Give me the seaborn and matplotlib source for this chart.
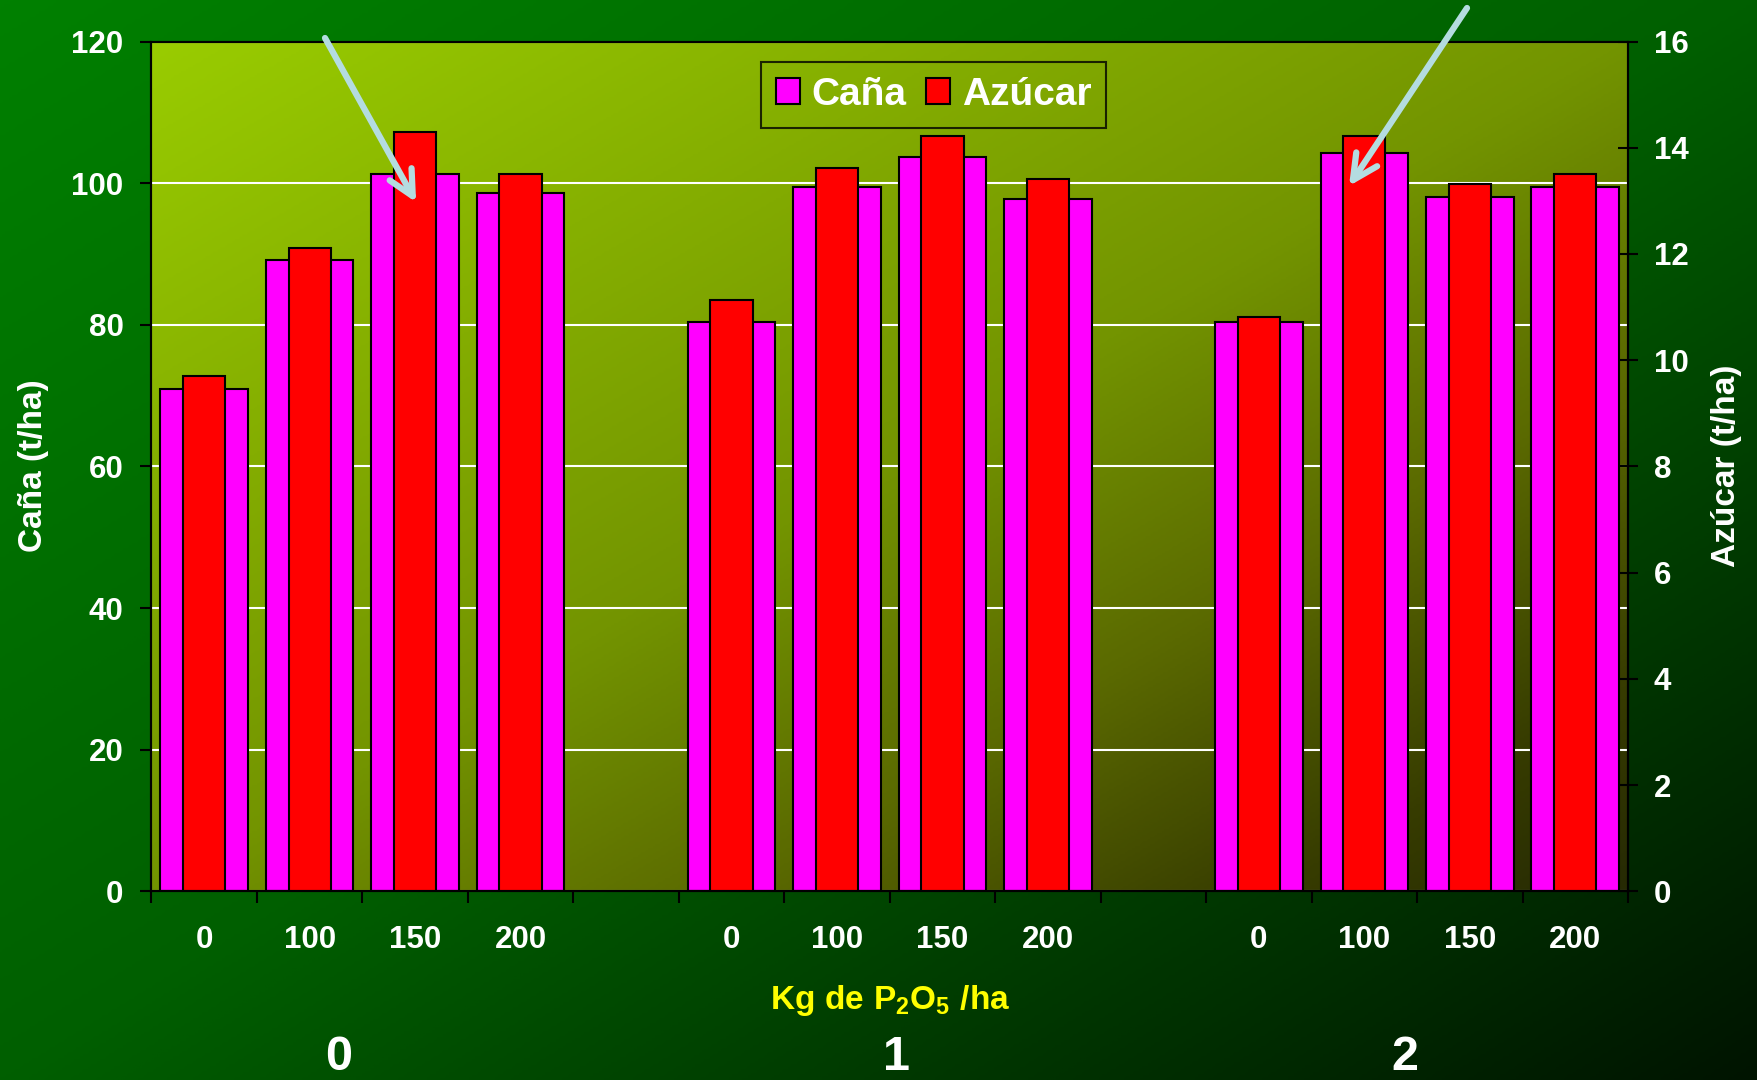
import numpy as np
import pandas as pd
import matplotlib
matplotlib.use("Agg")
import matplotlib.pyplot as plt
import seaborn as sns
from matplotlib.colors import LinearSegmentedColormap
from matplotlib.ticker import NullFormatter

# ---- datos ----
grupos = ["0", "1", "2"]
dosis = ["0", "100", "150", "200"]

# rendimiento de caña (t/ha), por grupo y dosis de P2O5
cana = [71.0, 89.1, 101.3, 98.6,
        80.4, 99.5, 103.7, 97.7,
        80.4, 104.2, 98.0, 99.4]
# rendimiento de azúcar (t/ha), mismo orden
azucar = [9.70, 12.12, 14.30, 13.51,
          11.13, 13.62, 14.22, 13.42,
          10.81, 14.22, 13.31, 13.51]

ticks_cana = [0, 20, 40, 60, 80, 100, 120]
ticks_azucar = [0, 2, 4, 6, 8, 10, 12, 14, 16]

# ---- tabla ----
df = pd.DataFrame({
    "grupo": np.repeat(grupos, len(dosis)),
    "dosis": dosis * len(grupos),
    "cana": cana,
    "azucar": azucar,
})
paso = len(dosis) + 1  # una posición vacía entre grupos
df["pos"] = (df["grupo"].map({g: i for i, g in enumerate(grupos)}) * paso
             + df["dosis"].map({d: i for i, d in enumerate(dosis)}))
n_pos = paso * len(grupos) - 1

# ---- estilo ----
sns.set_theme(style="white")
plt.rcParams["font.family"] = ["Liberation Sans", "DejaVu Sans"]
plt.rcParams["font.weight"] = "bold"
plt.rcParams["mathtext.fontset"] = "custom"
plt.rcParams["mathtext.rm"] = "Liberation Sans:bold"
plt.rcParams["mathtext.bf"] = "Liberation Sans:bold"
plt.rcParams["mathtext.it"] = "Liberation Sans:bold"

W, H = 1758, 1080
fig = plt.figure(figsize=(W / 100, H / 100), dpi=100)


def degradado(paradas, nx=600, ny=400):
    u = np.linspace(0, 1, nx)[None, :]
    v = np.linspace(0, 1, ny)[:, None]
    t = (u + v) / 2
    cmap = LinearSegmentedColormap.from_list("d", paradas)
    return cmap(t)


# fondo verde de la figura
fondo = fig.add_axes([0, 0, 1, 1])
fondo.imshow(degradado([(0.0, (0, 128 / 255, 0)),
                        (0.5, (0, 95 / 255, 0)),
                        (1.0, (0, 20 / 255, 0))]),
             aspect="auto", extent=[0, 1, 0, 1])
fondo.axis("off")
fondo.set_zorder(-5)

# área de trazado
x0, x1, y_top, y_bot = 151.4, 1628.0, 41.5, 891.4
ax = fig.add_axes([x0 / W, 1 - y_bot / H, (x1 - x0) / W, (y_bot - y_top) / H])
ax.imshow(degradado([(0.0, (153 / 255, 204 / 255, 0)),
                     (0.5, (115 / 255, 148 / 255, 0)),
                     (0.7, (90 / 255, 105 / 255, 0)),
                     (0.88, (55 / 255, 60 / 255, 0)),
                     (1.0, (38 / 255, 42 / 255, 4 / 255))]),
          aspect="auto", extent=[0, 1, 0, 1], transform=ax.transAxes, zorder=-1)

sns.barplot(data=df, x="pos", y="cana", native_scale=True, width=0.83,
            color="#FF00FF", saturation=1, edgecolor="black", linewidth=1.5,
            errorbar=None, label="Caña", ax=ax)

ax2 = ax.twinx()
sns.barplot(data=df, x="pos", y="azucar", native_scale=True, width=0.40,
            color="#FF0000", saturation=1, edgecolor="black", linewidth=1.5,
            errorbar=None, label="Azúcar", ax=ax2)

for a in (ax, ax2):
    if a.get_legend() is not None:
        a.get_legend().remove()
    a.set_xlabel("")
    a.set_ylabel("")

ax.set_xlim(-0.5, n_pos - 0.5)
ax.set_ylim(0, 120)
ax2.set_ylim(0, 16)
ax.set_yticks(ticks_cana)
ax2.set_yticks(ticks_azucar)

# marcas del eje x en los límites de cada posición, rótulos al centro
ax.set_xticks(np.arange(-0.5, n_pos, 1.0))
ax.xaxis.set_major_formatter(NullFormatter())
ax.set_xticks(df["pos"].to_numpy(), labels=df["dosis"].tolist(), minor=True)
ax.tick_params(axis="x", which="major", direction="out", length=8.5, width=1.5,
               color="black", bottom=True)
ax.tick_params(axis="x", which="minor", length=0, pad=24, labelsize=22.5,
               labelcolor="white", bottom=True)
for lab in ax.get_xticklabels(minor=True):
    lab.set_fontweight("bold")

ax.tick_params(axis="y", direction="out", length=8, width=1.5, color="black",
               pad=12, labelsize=22.5, labelcolor="white", left=True)
ax2.tick_params(axis="y", direction="inout", length=15, width=1.5, color="black",
                pad=11, labelsize=22.5, labelcolor="white", right=True)
for lab in ax.get_yticklabels() + ax2.get_yticklabels():
    lab.set_fontweight("bold")

ax.set_axisbelow(True)
ax.yaxis.grid(True, color="white", linewidth=1.5)
ax.xaxis.grid(False)
for a in (ax, ax2):
    for s in a.spines.values():
        s.set_color("black")
        s.set_linewidth(1.5)
        s.set_visible(True)

# leyenda
h1, l1 = ax.get_legend_handles_labels()
h2, l2 = ax2.get_legend_handles_labels()
leg = ax2.legend(h1 + h2, l1 + l2, loc="upper left",
                 bbox_to_anchor=(0.4128, 0.9759), ncol=2,
                 prop={"weight": "bold", "size": 28}, labelcolor="white",
                 frameon=True, fancybox=False, edgecolor="black",
                 facecolor="none", framealpha=None,
                 handlelength=0.62, handleheight=0.62, handletextpad=0.3,
                 columnspacing=0.5, borderpad=0.38, borderaxespad=0)
leg.get_frame().set_linewidth(1.5)

# títulos de ejes
fig.text(34 / W, 1 - 466 / H, "Caña (t/ha)", rotation=90, ha="center",
         va="center", color="white", fontsize=24, fontweight="bold")
fig.text(1727 / W, 1 - 466 / H, "Azúcar (t/ha)", rotation=90, ha="center",
         va="center", color="white", fontsize=24, fontweight="bold")
fig.text(890 / W, 1 - 1000 / H, r"$\mathbf{Kg\ de\ P_2O_5\ /ha}$",
         ha="center", va="center", color="#FFFF00", fontsize=24)

# rótulos de grupo
for g, xg in zip(grupos, [339, 897, 1405]):
    fig.text(xg / W, 1 - 1057 / H, g, ha="center", va="center",
             color="white", fontsize=35, fontweight="bold")

# flechas señalando los mejores tratamientos
flechas = [((325, H - 38), (2.01, 97.3)),
           ((1467, H - 8), (10.855, 99.6))]
for cola, punta in flechas:
    ax2.annotate("", xy=punta, xycoords=ax.transData,
                 xytext=cola, textcoords="figure pixels",
                 arrowprops=dict(arrowstyle="->,head_length=0.9,head_width=0.45",
                                 color="#B4DCE0", lw=4.5, mutation_scale=20,
                                 shrinkA=0, shrinkB=0),
                 annotation_clip=False)

fig.savefig("out.png", dpi=100)
